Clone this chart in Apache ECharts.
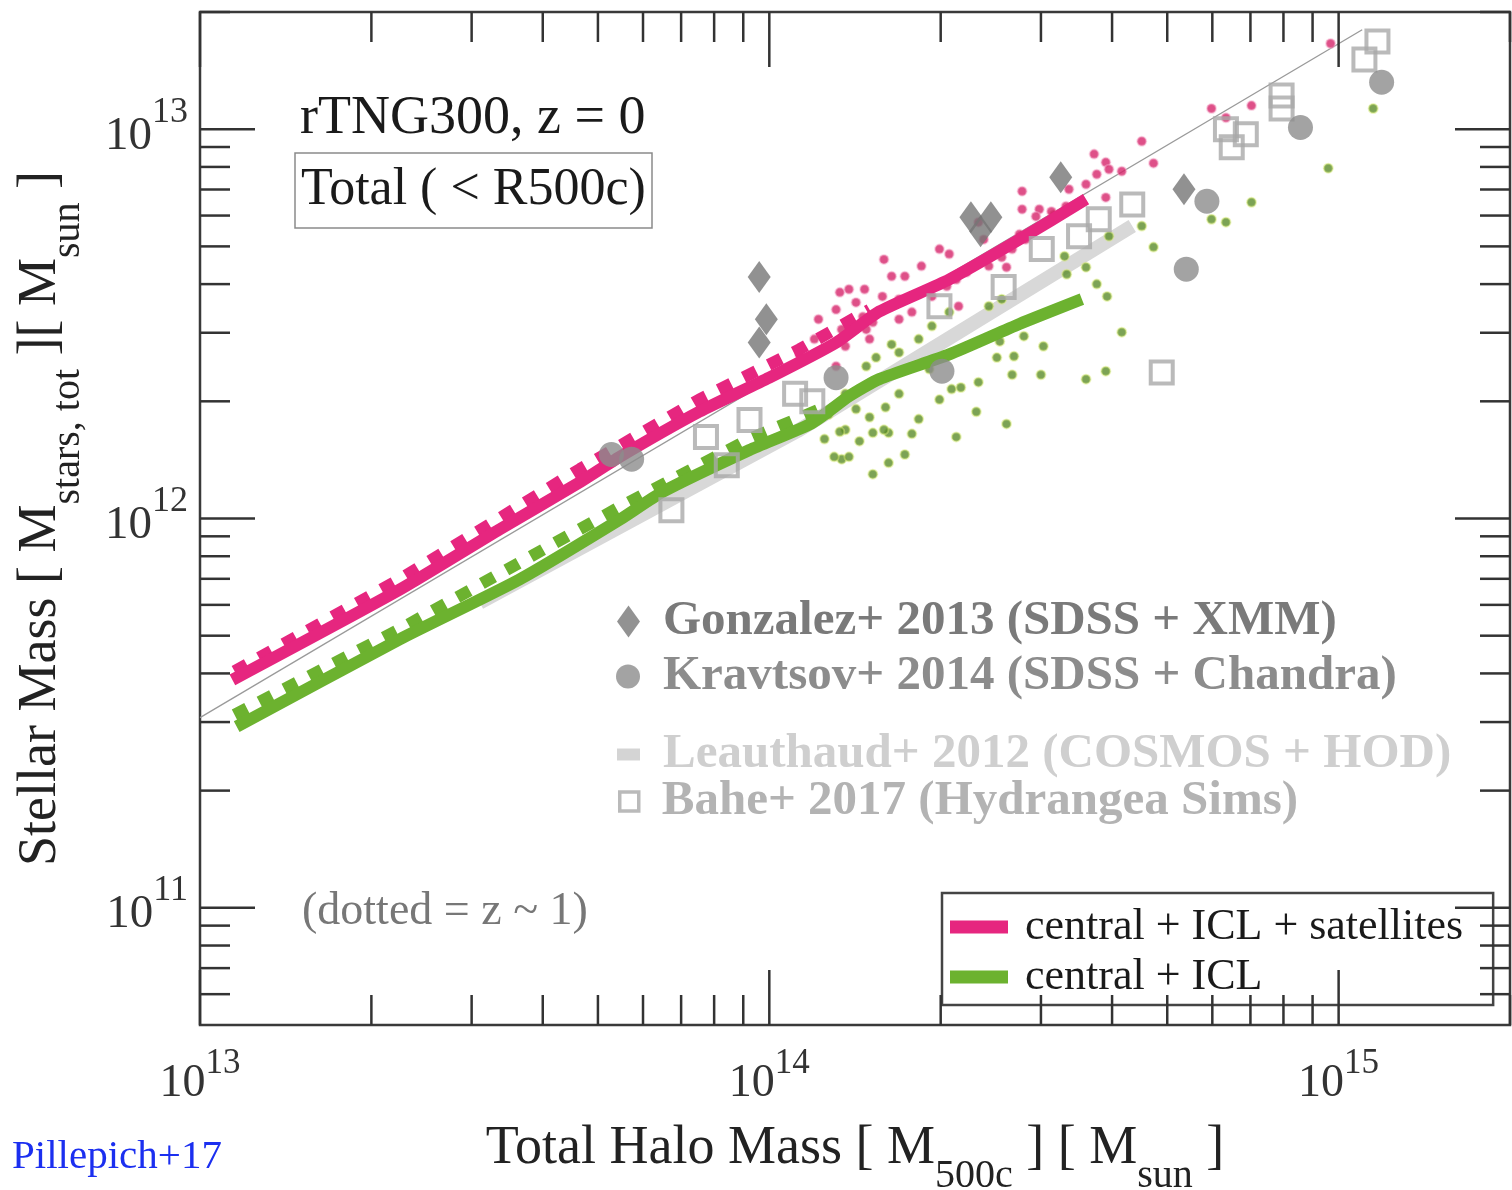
<!DOCTYPE html>
<html>
<head>
<meta charset="utf-8">
<script src="https://cdn.jsdelivr.net/npm/echarts@6/dist/echarts.min.js"></script>
<style>
  html, body { margin: 0; padding: 0; background: #fff; }
  #chart { width: 1512px; height: 1190px; }
</style>
</head>
<body>
<div id="chart"></div>
<script>
// ---------------- DATA ----------------
const xLimits = [1e13, 2e15];
const yLimits = [5e10, 2e13];
const xMajorTicks = [1e13, 1e14, 1e15];
const xMinorTicks = [2e13, 3e13, 4e13, 5e13, 6e13, 7e13, 8e13, 9e13,
                     2e14, 3e14, 4e14, 5e14, 6e14, 7e14, 8e14, 9e14, 2e15];
const yMajorTicks = [1e11, 1e12, 1e13];
const yMinorTicks = [6e10, 7e10, 8e10, 9e10,
                     2e11, 3e11, 4e11, 5e11, 6e11, 7e11, 8e11, 9e11,
                     2e12, 3e12, 4e12, 5e12, 6e12, 7e12, 8e12, 9e12, 2e13];

// TNG300 medians, z = 0  [M500c, M*]
const pinkZ0 = [[1.14e13,3.85e11],[2.24e13,6.56e11],[3.36e13,9.38e11],[4.65e13,1.24e12],
                [5.46e13,1.44e12],[7.53e13,1.88e12],[1.0e14,2.30e12],[1.31e14,2.83e12],
                [1.56e14,3.40e12],[2.07e14,4.11e12],[2.75e14,5.21e12],[3.60e14,6.61e12]];
const greenZ0 = [[1.16e13,2.92e11],[2.24e13,4.89e11],[3.64e13,6.97e11],[5.46e13,9.93e11],
                 [6.49e13,1.17e12],[9.23e13,1.50e12],[1.19e14,1.76e12],[1.38e14,2.06e12],
                 [1.56e14,2.28e12],[2.07e14,2.64e12],[2.75e14,3.16e12],[3.54e14,3.66e12]];
// z ~ 1 (dotted)
const pinkZ1 = [[1.15e13,4.05e11],[2.24e13,6.97e11],[4.65e13,1.34e12],[7.53e13,2.02e12],
                [1.13e14,2.72e12],[1.50e14,3.44e12]];
const greenZ1 = [[1.15e13,3.13e11],[2.24e13,5.19e11],[5.46e13,1.07e12],[9.23e13,1.60e12],
                 [1.28e14,1.96e12]];

// Individual haloes
const pinkHalos = [[9.68e14,1.66e13],[5.98e14,1.13e13],[6.34e14,1.07e13],[7.03e14,1.15e13],
  [4.73e14,8.18e12],[4.51e14,9.31e12],[3.90e14,8.22e12],[3.95e14,7.89e12],[4.16e14,7.80e12],
  [3.76e14,7.66e12],[3.60e14,7.22e12],[2.78e14,6.93e12],[2.78e14,6.23e12],[2.98e14,6.23e12],
  [3.90e14,6.68e12],[2.33e14,5.77e12],[2.56e14,4.69e12],[2.61e14,4.42e12],[1.64e14,4.19e12],
  [1.73e14,4.19e12],[1.99e14,4.92e12],[1.78e14,3.39e12],[1.85e14,4.45e12],[2.13e14,4.11e12],
  [2.15e14,3.51e12],[1.33e14,3.81e12],[1.47e14,3.88e12],[1.31e14,3.44e12],[1.42e14,3.59e12],
  [1.34e14,3.06e12],[1.50e14,2.89e12],[1.31e14,2.46e12],[1.52e14,3.19e12],[3.16e14,6.04e12],
  [2.38e14,5.21e12],[2.75e14,5.37e12],[1.69e14,3.66e12],[2.07e14,4.78e12],[1.59e14,4.63e12],
  [1.22e14,3.25e12],[3.36e14,7.01e12],[3.72e14,8.63e12],
  [1.58e14,3.72e12],[1.69e14,3.25e12],[1.93e14,3.72e12],[2.05e14,3.95e12],[2.22e14,4.29e12],
  [2.43e14,4.45e12],[2.67e14,4.92e12],[2.82e14,5.21e12],[2.94e14,5.97e12],[3.13e14,6.15e12],
  [3.32e14,6.34e12],[1.38e14,3.88e12],[1.46e14,3.30e12],[1.36e14,2.77e12],[1.48e14,3.06e12],
  [1.20e14,2.89e12],[1.13e14,2.64e12]];
const greenHalos = [[1.15e15,1.13e13],[9.59e14,7.94e12],[7.03e14,6.49e12],[5.98e14,5.87e12],
  [6.34e14,5.77e12],[4.51e14,5.64e12],[4.73e14,4.98e12],[3.95e14,5.31e12],[3.30e14,4.72e12],
  [3.60e14,4.42e12],[3.76e14,4.00e12],[3.92e14,3.72e12],[4.16e14,3.01e12],[3.03e14,2.77e12],
  [2.80e14,2.94e12],[2.51e14,2.59e12],[2.69e14,2.61e12],[2.67e14,2.34e12],[3.00e14,2.34e12],
  [3.60e14,2.28e12],[3.90e14,2.39e12],[2.33e14,2.24e12],[2.09e14,2.15e12],[2.17e14,2.17e12],
  [2.31e14,1.88e12],[2.61e14,1.75e12],[1.83e14,1.80e12],[2.13e14,1.62e12],[1.78e14,1.65e12],
  [1.60e14,1.93e12],[1.62e14,1.66e12],[1.64e14,2.80e12],[1.54e14,2.59e12],[1.48e14,2.46e12],
  [1.52e14,1.66e12],[1.36e14,1.69e12],[1.33e14,1.67e12],[1.34e14,1.42e12],[1.38e14,1.44e12],
  [1.44e14,1.58e12],[1.62e14,1.39e12],[1.52e14,1.30e12],[1.42e14,1.91e12],[1.59e14,1.69e12],
  [3.33e14,4.24e12],[1.91e14,2.42e12],[1.73e14,1.46e12],[2.54e14,2.85e12],[1.99e14,2.02e12],
  [1.25e14,1.60e12],[1.30e14,1.44e12],
  [2.43e14,3.51e12],[2.56e14,3.66e12],[2.07e14,3.39e12],[1.93e14,3.12e12],[1.83e14,2.89e12],
  [1.69e14,2.67e12],[1.36e14,2.09e12],[1.44e14,2.15e12],[1.27e14,1.85e12],[1.50e14,1.82e12],
  [1.69e14,2.09e12]];

// Observations / other simulations
const gonzalez = [[9.60e13,4.17e12],[9.88e13,3.25e12],[9.60e13,2.83e12],[2.26e14,5.94e12],
                  [2.45e14,5.94e12],[2.35e14,5.47e12],[3.25e14,7.53e12],[5.35e14,7.01e12]];
const kravtsov = [[5.28e13,1.46e12],[5.73e13,1.42e12],[1.31e14,2.30e12],[2.01e14,2.39e12],
                  [5.40e14,4.37e12],[5.87e14,6.53e12],[8.57e14,1.01e13],[1.19e15,1.32e13]];
const bahe = [[1.17e15,1.68e13],[1.11e15,1.51e13],[7.94e14,1.22e13],[7.94e14,1.13e13],
              [6.34e14,1.00e13],[6.87e14,9.71e12],[6.49e14,8.99e12],[4.34e14,6.41e12],
              [3.79e14,5.87e12],[3.50e14,5.31e12],[3.01e14,4.92e12],[2.58e14,3.93e12],
              [1.99e14,3.51e12],[4.89e14,2.37e12],[7.74e13,1.62e12],[9.23e13,1.79e12],
              [1.11e14,2.09e12],[1.19e14,2.00e12],[8.42e13,1.37e12],[6.73e13,1.05e12]];
const leauthaud = [[3.10e13,6.08e11],[1.13e14,1.69e12],[4.34e14,5.64e12]];
const refLine = [[1e13,3.08e11],[1.1e15,1.80e13]];

// Names
const nPink = 'central + ICL + satellites';
const nGreen = 'central + ICL';
const nGon = 'Gonzalez+ 2013 (SDSS + XMM)';
const nKra = 'Kravtsov+ 2014 (SDSS + Chandra)';
const nLea = 'Leauthaud+ 2012 (COSMOS + HOD)';
const nBah = 'Bahe+ 2017 (Hydrangea Sims)';

// ---------------- STYLE ----------------
const FONT = 'Liberation Serif';
const PINK = '#e6267f';
const GREEN = '#6cb22f';
const TICK = '#333333';

function powLabel(v) {
  const e = Math.log10(v);
  const r = Math.round(e);
  return Math.abs(e - r) < 1e-6 ? '{b|10}{s|' + r + '}' : '';
}

function tickRenderer(isX) {
  return function (params, api) {
    const cs = params.coordSys;
    const v = api.value(isX ? 0 : 1);
    const major = api.value(2) === 1;
    const len = major ? 55 : 30;
    const p = api.coord(isX ? [v, yLimits[0]] : [xLimits[0], v]);
    const style = { stroke: TICK, lineWidth: 2.5 };
    if (isX) {
      const x = p[0];
      return { type: 'group', children: [
        { type: 'line', shape: { x1: x, y1: cs.y + cs.height, x2: x, y2: cs.y + cs.height - len }, style },
        { type: 'line', shape: { x1: x, y1: cs.y, x2: x, y2: cs.y + len }, style }
      ]};
    }
    const y = p[1];
    return { type: 'group', children: [
      { type: 'line', shape: { x1: cs.x, y1: y, x2: cs.x + len, y2: y }, style },
      { type: 'line', shape: { x1: cs.x + cs.width, y1: y, x2: cs.x + cs.width - len, y2: y }, style }
    ]};
  };
}

const xTickData = xMajorTicks.map(v => [v, yLimits[0], 1]).concat(xMinorTicks.map(v => [v, yLimits[0], 0]));
const yTickData = yMajorTicks.map(v => [xLimits[0], v, 1]).concat(yMinorTicks.map(v => [xLimits[0], v, 0]));

const chart = echarts.init(document.getElementById('chart'), null, { renderer: 'canvas' });

function obsLegend(name, icon, left, top, w, h, textColor, itemStyle) {
  return {
    show: true, selectedMode: false, orient: 'vertical',
    left: left, top: top, padding: 0,
    itemWidth: w, itemHeight: h,
    data: [{ name: name, icon: icon, itemStyle: itemStyle, textStyle: { color: textColor } }],
    textStyle: { fontFamily: FONT, fontWeight: 'bold', fontSize: 49, color: textColor, padding: [0, 0, 0, 18] }
  };
}

const option = {
  animation: false,
  backgroundColor: '#ffffff',
  grid: { left: 200, top: 12, width: 1310, height: 1013, show: true,
          outerBoundsMode: 'none', containLabel: false,
          borderColor: '#3a3a3a', borderWidth: 2.5, backgroundColor: 'transparent' },
  title: [
    { text: 'rTNG300, z = 0', left: 295, top: 87, padding: 5,
      textStyle: { fontFamily: FONT, fontWeight: 'normal', fontSize: 54, color: '#1a1a1a' } },
    { text: 'Total ( < R500c)', left: 295, top: 153, padding: [11, 6, 12, 6],
      borderColor: '#8a8a8a', borderWidth: 1.5,
      textStyle: { fontFamily: FONT, fontWeight: 'normal', fontSize: 52, color: '#1a1a1a' } },
    { text: '(dotted = z ~ 1)', left: 297, top: 884, padding: 5,
      textStyle: { fontFamily: FONT, fontWeight: 'normal', fontSize: 46, color: '#777777' } },
    { text: 'Pillepich+17', left: 7, top: 1132, padding: 5,
      textStyle: { fontFamily: FONT, fontWeight: 'normal', fontSize: 41, color: '#1b2ff0' } }
  ],
  legend: [
    { show: true, selectedMode: false, orient: 'vertical', left: 942, top: 893,
      padding: [12, 30, 6, 8], itemGap: 6, itemWidth: 58, itemHeight: 13,
      backgroundColor: '#ffffff', borderColor: '#444444', borderWidth: 2.5,
      data: [{ name: nPink, icon: 'rect' }, { name: nGreen, icon: 'rect' }],
      textStyle: { fontFamily: FONT, fontSize: 44, color: '#1a1a1a', padding: [0, 0, 0, 12] } },
    obsLegend(nGon, 'diamond', 617, 597, 23, 32, '#7a7a7a', { color: '#777777' }),
    obsLegend(nKra, 'circle', 616, 652, 24, 24, '#8c8c8c', { color: '#8c8c8c' }),
    obsLegend(nLea, 'rect', 617, 730, 23, 12, '#cfcfcf', { color: '#d4d4d4' }),
    obsLegend(nBah, 'rect', 618, 777, 19, 19, '#b3b3b3',
              { color: '#ffffff', borderColor: '#a9a9a9', borderWidth: 3.5 })
  ],
  xAxis: {
    type: 'log', logBase: 10, min: xLimits[0], max: xLimits[1],
    axisLine: { show: false }, axisTick: { show: false }, splitLine: { show: false },
    minorTick: { show: false }, minorSplitLine: { show: false },
    axisLabel: {
      margin: 21, formatter: powLabel, showMinLabel: true, showMaxLabel: true,
      rich: {
        b: { fontFamily: FONT, fontSize: 46, color: '#333' },
        s: { fontFamily: FONT, fontSize: 35, color: '#333', padding: [0, 0, 40, 0] }
      }
    },
    name: '{t|Total Halo Mass [ M}{s|500c}{t| ] [ M}{s|sun}{t| ]}',
    nameLocation: 'middle', nameGap: 77,
    nameTextStyle: {
      rich: {
        t: { fontFamily: FONT, fontSize: 54, color: '#222' },
        s: { fontFamily: FONT, fontSize: 40, color: '#222', padding: [54, 0, 0, 0] }
      }
    }
  },
  yAxis: {
    type: 'log', logBase: 10, min: yLimits[0], max: yLimits[1],
    axisLine: { show: false }, axisTick: { show: false }, splitLine: { show: false },
    minorTick: { show: false }, minorSplitLine: { show: false },
    axisLabel: {
      margin: 12, formatter: powLabel,
      rich: {
        b: { fontFamily: FONT, fontSize: 47, color: '#333', padding: [14, 0, 0, 0] },
        s: { fontFamily: FONT, fontSize: 36, color: '#333', padding: [0, 0, 34, 0] }
      }
    },
    name: '{t|Stellar Mass [ M}{s|stars, tot}{t| ][ M}{s|sun}{t| ]}',
    nameLocation: 'middle', nameGap: 112,
    nameTextStyle: {
      rich: {
        t: { fontFamily: FONT, fontSize: 54, color: '#222' },
        s: { fontFamily: FONT, fontSize: 40, color: '#222', padding: [54, 0, 0, 0] }
      }
    }
  },
  series: [
    { name: nLea, type: 'line', data: leauthaud, showSymbol: false, symbol: 'none',
      lineStyle: { color: '#d8d8d8', width: 14 }, itemStyle: { color: '#d4d4d4' }, z: 1 },
    { name: 'ref', type: 'line', data: refLine, showSymbol: false, symbol: 'none',
      lineStyle: { color: '#9a9a9a', width: 1.3 }, z: 1 },
    { name: 'green haloes', type: 'scatter', data: greenHalos, symbol: 'circle', symbolSize: 9,
      itemStyle: { color: '#5b8c2b', borderColor: 'rgba(215,235,120,0.6)', borderWidth: 2 }, z: 2 },
    { name: 'pink haloes', type: 'scatter', data: pinkHalos, symbol: 'circle', symbolSize: 9,
      itemStyle: { color: '#d6246a', borderColor: 'rgba(245,170,200,0.6)', borderWidth: 2 }, z: 2 },
    { name: nGreen + ' z~1', type: 'line', data: greenZ1, showSymbol: false, symbol: 'none',
      lineStyle: { color: GREEN, width: 12, type: [14, 14], cap: 'butt' }, z: 3 },
    { name: nGreen, type: 'line', data: greenZ0, showSymbol: false, symbol: 'none', smooth: 0.2,
      lineStyle: { color: GREEN, width: 12 }, itemStyle: { color: GREEN }, z: 3 },
    { name: nPink + ' z~1', type: 'line', data: pinkZ1, showSymbol: false, symbol: 'none',
      lineStyle: { color: PINK, width: 12, type: [14, 14], cap: 'butt' }, z: 3 },
    { name: nPink, type: 'line', data: pinkZ0, showSymbol: false, symbol: 'none', smooth: 0.2,
      lineStyle: { color: PINK, width: 12 }, itemStyle: { color: PINK }, z: 3 },
    { name: nBah, type: 'scatter', data: bahe, symbol: 'rect', symbolSize: 22,
      itemStyle: { color: 'rgba(255,255,255,0)', borderColor: '#a9a9a9', borderWidth: 4 }, z: 4 },
    { name: nKra, type: 'scatter', data: kravtsov, symbol: 'circle', symbolSize: 25,
      itemStyle: { color: '#8c8c8c' }, z: 4 },
    { name: nGon, type: 'scatter', data: gonzalez, symbol: 'diamond', symbolSize: [23, 32],
      itemStyle: { color: '#767676' }, z: 4 },
    { name: 'xticks', type: 'custom', data: xTickData, renderItem: tickRenderer(true),
      encode: { x: 0, y: 1 }, clip: false, silent: true, z: 5 },
    { name: 'yticks', type: 'custom', data: yTickData, renderItem: tickRenderer(false),
      encode: { x: 0, y: 1 }, clip: false, silent: true, z: 5 }
  ]
};

chart.setOption(option);
</script>
</body>
</html>
